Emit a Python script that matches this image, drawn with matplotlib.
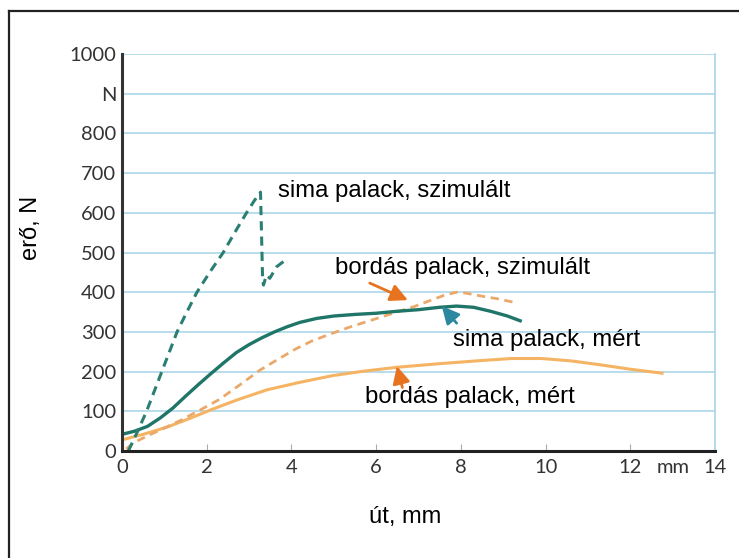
import matplotlib
matplotlib.use("Agg")
import matplotlib.pyplot as plt
from matplotlib.lines import Line2D

# sima palack, szimulalt (dashed teal)
sim_sima_x = [0.15, 0.37, 0.58, 0.76, 0.94, 1.12, 1.30, 1.53, 1.77, 2.07, 2.39, 2.66, 2.94, 3.12, 3.27,
              3.30, 3.32, 3.34, 3.41, 3.49, 3.65, 3.81]
sim_sima_y = [0, 50, 100, 150, 200, 250, 300, 350, 400, 450, 500, 550, 600, 630, 652,
              520, 430, 418, 443, 435, 464, 477]

# sima palack, mert (solid teal)
mert_sima_x = [0, 0.3, 0.6, 0.9, 1.2, 1.5, 1.8, 2.1, 2.4, 2.7, 3.0, 3.3, 3.6, 3.9, 4.2, 4.6, 5.0,
               5.5, 6.0, 6.5, 7.0, 7.5, 7.9, 8.3, 8.7, 9.1, 9.4]
mert_sima_y = [42, 50, 62, 83, 108, 138, 167, 195, 222, 248, 268, 285, 300, 313, 324, 334, 340,
               344, 347, 352, 356, 362, 365, 362, 352, 340, 328]

# bordas palack, szimulalt (dashed orange)
sim_bord_x = [0.1, 0.26, 0.6, 0.9, 1.4, 1.84, 2.3, 2.8, 3.26, 3.7, 4.1, 4.5, 4.98, 5.4, 5.9, 6.4,
              6.9, 7.3, 7.6, 7.9, 8.1, 8.3, 8.6, 8.9, 9.1, 9.33]
sim_bord_y = [5, 20, 38, 53, 78, 103, 130, 168, 204, 232, 257, 278, 297, 313, 330, 347,
              364, 380, 392, 400, 398, 394, 388, 383, 378, 373]

# bordas palack, mert (solid orange)
mert_bord_x = [0, 0.5, 1.06, 1.6, 2.08, 2.7, 3.42, 4.2, 4.98, 5.7, 6.5, 7.5, 8.5, 9.2, 9.9,
               10.6, 11.3, 12.0, 12.75]
mert_bord_y = [28, 42, 60, 82, 103, 128, 154, 173, 190, 201, 211, 220, 228, 233, 233,
               227, 217, 206, 196]

x_ticks = [0, 2, 4, 6, 8, 10, 12, 13, 14]
x_labels = ['0', '2', '4', '6', '8', '10', '12', 'mm', '14']
y_ticks = [0, 100, 200, 300, 400, 500, 600, 700, 800, 900, 1000]
y_labels = ['0', '100', '200', '300', '400', '500', '600', '700', '800', 'N', '1000']

teal = '#1f7567'
teal_dash = '#2b7f72'
orange = '#f5b463'
orange_dash = '#eaa96a'

fig = plt.figure(figsize=(7.39, 5.58), dpi=100)
ax = fig.add_axes([122 / 739, 1 - 451 / 558, (715 - 122) / 739, (451 - 54) / 558])

ax.plot(mert_bord_x, mert_bord_y, color=orange, lw=2.2, solid_joinstyle='round')
ax.plot(sim_bord_x, sim_bord_y, color=orange_dash, lw=2.0, dashes=(3, 2))
ax.plot(mert_sima_x, mert_sima_y, color=teal, lw=2.4, solid_joinstyle='round')
ax.plot(sim_sima_x, sim_sima_y, color=teal_dash, lw=2.2, dashes=(3, 2))

ax.set_xlim(0, 14)
ax.set_ylim(0, 1000)
ax.set_yticks(y_ticks)
ax.set_yticklabels(y_labels)
ax.set_xticks(x_ticks)
ax.set_xticklabels(x_labels)
for lab in ax.get_xticklabels() + ax.get_yticklabels():
    lab.set_family('Lato')
    lab.set_fontsize(14.5)
    lab.set_color('#333333')
ax.tick_params(axis='y', length=0, pad=4)
ax.tick_params(axis='x', direction='in', length=5, color='#aaaaaa', pad=6)
for i in (0, 7, 8):
    ax.xaxis.get_major_ticks()[i].tick1line.set_visible(False)

ax.yaxis.grid(True, color='#a6d3e8', lw=1.1)
ax.set_axisbelow(True)
ax.spines['top'].set_visible(False)
ax.spines['right'].set_color('#a6d3e8')
ax.spines['right'].set_linewidth(1.2)
ax.spines['left'].set_color('#333333')
ax.spines['left'].set_linewidth(2.2)
ax.spines['bottom'].set_color('#222222')
ax.spines['bottom'].set_linewidth(2.2)

txt = dict(family='Liberation Sans', fontsize=17.2, color='black', va='center')
ax.text(3.68, 655, 'sima palack, szimulált', **txt)
ax.text(5.03, 461, 'bordás palack, szimulált', **txt)
ax.text(7.81, 280, 'sima palack, mért', **txt)
ax.text(5.74, 136, 'bordás palack, mért', **txt)

arr = dict(arrowstyle='-|>,head_length=0.8,head_width=0.4', lw=2.0, mutation_scale=13,
           shrinkA=0, shrinkB=0)
ax.annotate('', xy=(6.75, 380), xytext=(5.85, 423),
            arrowprops=dict(color='#e8731e', **arr))
ax.annotate('', xy=(7.55, 365), xytext=(7.9, 322),
            arrowprops=dict(color='#2b88a0', **arr))
ax.annotate('', xy=(6.49, 214), xytext=(6.62, 160),
            arrowprops=dict(color='#e8731e', **arr))

fig.text(31 / 739, 1 - 228 / 558, 'erő, N', rotation=90, ha='center', va='center',
         family='Liberation Sans', fontsize=17)
fig.text(405 / 739, 1 - 517 / 558, 'út, mm', ha='center', va='center',
         family='Liberation Sans', fontsize=17)

# outer frame (left and top edges visible)
fig.add_artist(Line2D([8.5 / 739, 8.5 / 739], [0, 1 - 11 / 558], color='#222222', lw=1.6))
fig.add_artist(Line2D([8.5 / 739, 1], [1 - 11 / 558, 1 - 11 / 558], color='#222222', lw=1.6))

fig.savefig('out.png', dpi=100)
